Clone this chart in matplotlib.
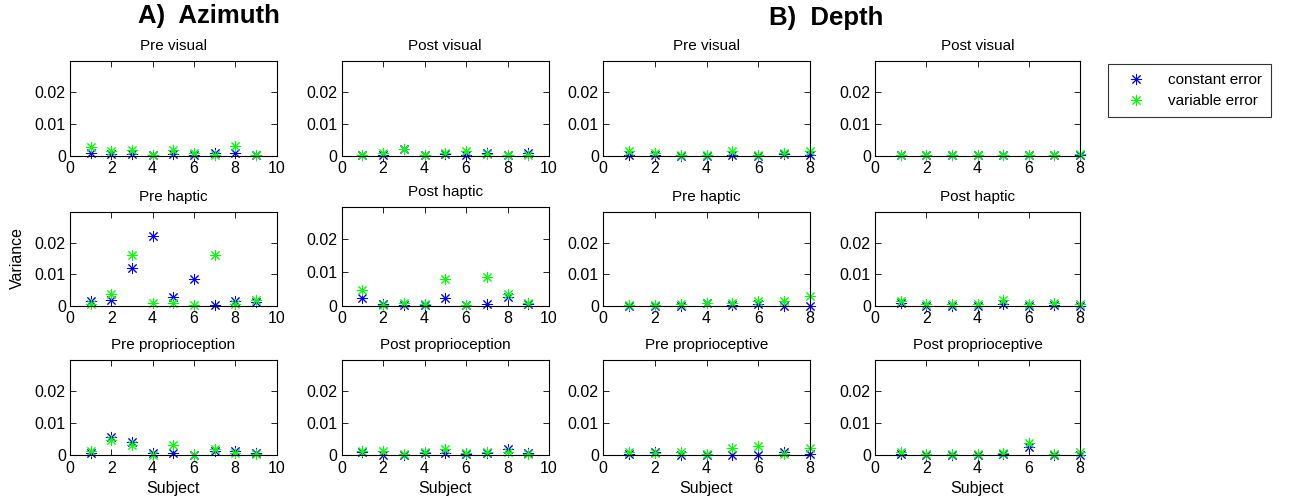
import matplotlib.pyplot as plt
from matplotlib.lines import Line2D

plt.rcParams['font.family'] = ['Liberation Sans', 'DejaVu Sans']

# subjects on the x axis
az_subjects = [1, 2, 3, 4, 5, 6, 7, 8, 9]
depth_subjects = [1, 2, 3, 4, 5, 6, 7, 8]

# A) Azimuth: constant error / variable error variances
az_pre_visual_ce = [0.0007, 0.0004, 0.0004, 0.0001, 0.0006, 0.0002, 0.0008, 0.0009, 0.0001]
az_pre_visual_ve = [0.0028, 0.0016, 0.0017, 0.0002, 0.0018, 0.0007, 0.0002, 0.0032, 0.0002]
az_post_visual_ce = [0.0001, 0.0003, 0.0020, 0.0001, 0.0005, 0.0003, 0.0007, 0.0001, 0.0007]
az_post_visual_ve = [0.0002, 0.0007, 0.0021, 0.0002, 0.0007, 0.0015, 0.0004, 0.0001, 0.0002]
az_pre_haptic_ce = [0.0015, 0.0019, 0.0120, 0.0222, 0.0026, 0.0086, 0.0003, 0.0016, 0.0013]
az_pre_haptic_ve = [0.0004, 0.0037, 0.0162, 0.0009, 0.0009, 0.0003, 0.0162, 0.0004, 0.0017]
az_post_haptic_ce = [0.0024, 0.0004, 0.0002, 0.0001, 0.0024, 0.0001, 0.0005, 0.0025, 0.0004]
az_post_haptic_ve = [0.0046, 0.0002, 0.0007, 0.0004, 0.0081, 0.0003, 0.0085, 0.0035, 0.0008]
az_pre_prop_ce = [0.0005, 0.0056, 0.0040, 0.0005, 0.0005, 0.0000, 0.0014, 0.0013, 0.0005]
az_pre_prop_ve = [0.0013, 0.0048, 0.0032, 0.0001, 0.0032, 0.0001, 0.0020, 0.0007, 0.0003]
az_post_prop_ce = [0.0010, 0.0001, 0.0000, 0.0007, 0.0007, 0.0002, 0.0007, 0.0019, 0.0005]
az_post_prop_ve = [0.0013, 0.0013, 0.0003, 0.0010, 0.0018, 0.0006, 0.0010, 0.0008, 0.0002]

# B) Depth
dp_pre_visual_ce = [0.0001, 0.0002, 0.0000, 0.0000, 0.0003, 0.0000, 0.0004, 0.0001]
dp_pre_visual_ve = [0.0016, 0.0009, 0.0002, 0.0001, 0.0015, 0.0001, 0.0007, 0.0016]
dp_post_visual_ce = [0.0001, 0.0001, 0.0001, 0.0001, 0.0001, 0.0001, 0.0001, 0.0001]
dp_post_visual_ve = [0.0002, 0.0002, 0.0002, 0.0002, 0.0002, 0.0002, 0.0002, 0.0005]
dp_pre_haptic_ce = [0.0000, 0.0000, 0.0000, 0.0007, 0.0002, 0.0004, 0.0000, 0.0000]
dp_pre_haptic_ve = [0.0003, 0.0003, 0.0004, 0.0010, 0.0008, 0.0015, 0.0014, 0.0030]
dp_post_haptic_ce = [0.0007, 0.0000, 0.0000, 0.0000, 0.0005, 0.0000, 0.0001, 0.0000]
dp_post_haptic_ve = [0.0016, 0.0005, 0.0005, 0.0005, 0.0018, 0.0005, 0.0007, 0.0005]
dp_pre_prop_ce = [0.0002, 0.0008, 0.0000, 0.0000, 0.0000, 0.0000, 0.0010, 0.0002]
dp_pre_prop_ve = [0.0010, 0.0005, 0.0008, 0.0004, 0.0023, 0.0027, 0.0004, 0.0023]
dp_post_prop_ce = [0.0003, 0.0000, 0.0000, 0.0000, 0.0004, 0.0026, 0.0000, 0.0000]
dp_post_prop_ve = [0.0008, 0.0004, 0.0004, 0.0004, 0.0007, 0.0038, 0.0003, 0.0008]

W, H = 1290, 501
fig = plt.figure(figsize=(W / 100, H / 100), dpi=100)

ASTERISK = (8, 2, 0)


def px_axes(left, top, right, bottom):
    """Axes placed with pixel coordinates measured from the top-left corner."""
    return fig.add_axes([left / W, 1 - bottom / H, (right - left) / W, (bottom - top) / H])


def draw_panel(ax, x, ce, ve, title, xmax, xlabel=False):
    ax.plot(x, ce, linestyle='none', marker=ASTERISK, color='#0000ff',
            markersize=8, markeredgewidth=0.7, clip_on=False)
    ax.plot(x, ve, linestyle='none', marker=ASTERISK, color='#00ff00',
            markersize=8, markeredgewidth=0.7, clip_on=False)
    ax.set_xlim(0, xmax)
    ax.set_ylim(0, 0.0298)
    ax.set_xticks(range(0, xmax + 1, 2))
    ax.set_yticks([0, 0.01, 0.02])
    ax.set_yticklabels(['0', '0.01', '0.02'])
    ax.tick_params(direction='in', top=True, right=True, length=4, width=0.6,
                   labelsize=11.5, pad=3)
    ax.tick_params(axis='x', pad=4)
    for s in ax.spines.values():
        s.set_linewidth(0.8)
        s.set_color('black')
    ax.set_title(title, fontsize=11, pad=8)
    if xlabel:
        ax.set_xlabel('Subject', fontsize=11.5, labelpad=4)


col_lr = [(70, 276.5), (341.5, 549), (603, 810), (875, 1080)]
row_tb = [(61, 155.7), (211.7, 305.7), (360, 455)]

panels = [
    # row, col, x, ce, ve, title, xmax
    (0, 0, az_subjects, az_pre_visual_ce, az_pre_visual_ve, 'Pre visual', 10),
    (0, 1, az_subjects, az_post_visual_ce, az_post_visual_ve, 'Post visual', 10),
    (0, 2, depth_subjects, dp_pre_visual_ce, dp_pre_visual_ve, 'Pre visual', 8),
    (0, 3, depth_subjects, dp_post_visual_ce, dp_post_visual_ve, 'Post visual', 8),
    (1, 0, az_subjects, az_pre_haptic_ce, az_pre_haptic_ve, 'Pre haptic', 10),
    (1, 1, az_subjects, az_post_haptic_ce, az_post_haptic_ve, 'Post haptic', 10),
    (1, 2, depth_subjects, dp_pre_haptic_ce, dp_pre_haptic_ve, 'Pre haptic', 8),
    (1, 3, depth_subjects, dp_post_haptic_ce, dp_post_haptic_ve, 'Post haptic', 8),
    (2, 0, az_subjects, az_pre_prop_ce, az_pre_prop_ve, 'Pre proprioception', 10),
    (2, 1, az_subjects, az_post_prop_ce, az_post_prop_ve, 'Post proprioception', 10),
    (2, 2, depth_subjects, dp_pre_prop_ce, dp_pre_prop_ve, 'Pre proprioceptive', 8),
    (2, 3, depth_subjects, dp_post_prop_ce, dp_post_prop_ve, 'Post proprioceptive', 8),
]

for row, col, x, ce, ve, title, xmax in panels:
    left, right = col_lr[col]
    top, bottom = row_tb[row]
    if row == 1 and col == 1:
        top = 206.7  # this one sits a bit taller in the original
    ax = px_axes(left, top, right, bottom)
    draw_panel(ax, x, ce, ve, title, xmax, xlabel=(row == 2))

# group headings
fig.text(209 / W, 1 - 16 / H, 'A)  Azimuth', ha='center', va='center',
         fontsize=18.5, fontweight='bold')
fig.text(826 / W, 1 - 18 / H, 'B)  Depth', ha='center', va='center',
         fontsize=18.5, fontweight='bold')

fig.text(17 / W, 1 - 258 / H, 'Variance', rotation=90, ha='center', va='center',
         fontsize=11.5)

handles = [
    Line2D([], [], linestyle='none', marker=ASTERISK, color='#0000ff',
           markersize=8, markeredgewidth=0.7),
    Line2D([], [], linestyle='none', marker=ASTERISK, color='#00ff00',
           markersize=8, markeredgewidth=0.7),
]
leg = fig.legend(handles, ['constant error', 'variable error'],
                 loc='upper left', bbox_to_anchor=(1108 / W, 1 - 64 / H),
                 fontsize=11, frameon=True, fancybox=False, borderpad=0.6,
                 handlelength=2.4, handletextpad=0.9, labelspacing=0.45,
                 borderaxespad=0)
leg.get_frame().set_edgecolor('black')
leg.get_frame().set_linewidth(0.8)

fig.savefig('out.png', dpi=100)
